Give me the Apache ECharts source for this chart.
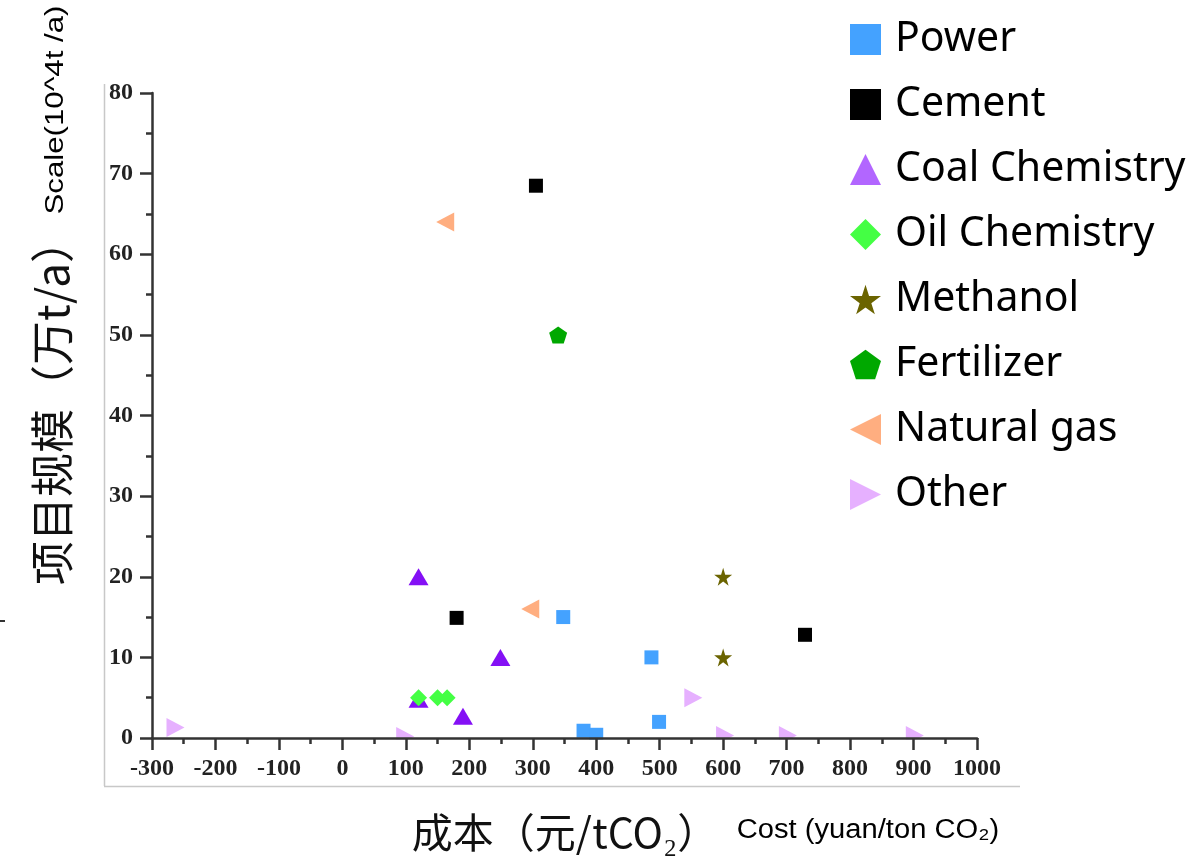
<!DOCTYPE html>
<html>
<head>
<meta charset="utf-8">
<script src="https://cdn.jsdelivr.net/npm/echarts@6/dist/echarts.min.js"></script>
<style>
html,body{margin:0;padding:0;background:#fff;}
#chart{width:1196px;height:858px;}
</style>
</head>
<body>
<div id="chart"></div>
<script>
// ---- data (cost yuan/tCO2, scale 10^4 t/a) ----
const seriesNames = ['Power','Cement','Coal Chemistry','Oil Chemistry','Methanol','Fertilizer','Natural gas','Other'];
const powerData      = [[348,15],[487,10],[499,2],[380,0.9],[400,0.4]];
const cementData     = [[305,68.5],[180,14.9],[729,12.8]];
const coalData       = [[120,20],[249,10],[190,2.7],[120,4.8]];
const oilData        = [[120,5],[150,5],[165,5]];
const methanolData   = [[600,20],[600,10]];
const fertilizerData = [[340,50]];
const gasData        = [[162,64],[296,16]];
const otherData      = [[-263,1.3],[99,0.2],[553,5],[603,0.3],[702,0.3],[902,0.3]];
const xTicks = {min:-300, max:1000, interval:100};
const yTicks = {min:0, max:80, interval:10};

const STAR = 'path://M50,0 L61,35 L98,35 L68,57 L79,91 L50,70 L21,91 L32,57 L2,35 L39,35 Z';
const PENT = 'path://M50,0 L100,36 L81,95 L19,95 L0,36 Z';
const LTRI = 'path://M0,50 L100,0 L100,100 Z';
const RTRI = 'path://M100,50 L0,0 L0,100 Z';

const chart = echarts.init(document.getElementById('chart'));
const tickFont = {fontFamily:'Liberation Serif', fontWeight:'bold', fontSize:24, color:'#222',
  formatter: v => String(v)};

function sc(name, data, symbol, size, color){
  return {name, type:'scatter', data, symbol, symbolSize:size, z:2,
    itemStyle:{color, opacity:1}, emphasis:{disabled:true}};
}

chart.setOption({
  animation:false,
  backgroundColor:'#fff',
  grid:{left:152, top:93, width:825, height:645},
  xAxis:{type:'value', min:xTicks.min, max:xTicks.max, interval:xTicks.interval, z:10,
    axisLine:{show:true, onZero:false, lineStyle:{color:'#333', width:2.5}},
    axisTick:{show:true, length:12, lineStyle:{color:'#333', width:2.5}},
    minorTick:{show:true, splitNumber:2, length:6, lineStyle:{color:'#333', width:2.5}},
    splitLine:{show:false},
    axisLabel:Object.assign({margin:19}, tickFont)},
  yAxis:{type:'value', min:yTicks.min, max:yTicks.max, interval:yTicks.interval, z:10,
    axisLine:{show:true, onZero:false, lineStyle:{color:'#333', width:2.5}},
    axisTick:{show:true, length:12, lineStyle:{color:'#333', width:2.5}},
    minorTick:{show:true, splitNumber:2, length:6, lineStyle:{color:'#333', width:2.5}},
    splitLine:{show:false},
    axisLabel:Object.assign({margin:19}, tickFont)},
  legend:{orient:'vertical', left:850, top:17, padding:0, itemGap:20,
    itemWidth:31, itemHeight:31, selectedMode:false,
    textStyle:{fontFamily:'Noto Sans', fontSize:41, color:'#000', lineHeight:45, padding:[0,0,0,9]},
    data:[
      {name:'Power', icon:'rect'},
      {name:'Cement', icon:'rect'},
      {name:'Coal Chemistry', icon:'triangle', itemStyle:{color:'#b266ff'}},
      {name:'Oil Chemistry', icon:'diamond'},
      {name:'Methanol', icon:STAR},
      {name:'Fertilizer', icon:PENT},
      {name:'Natural gas', icon:LTRI},
      {name:'Other', icon:RTRI}
    ]},
  graphic:[
    {type:'rect', z:5, silent:true, shape:{x:150, y:739.5, width:840, height:22}, style:{fill:'#fff'}},
    {type:'line', z:1, silent:true, shape:{x1:104.5, y1:84, x2:104.5, y2:786}, style:{stroke:'#c8c8c8', lineWidth:1.5}},
    {type:'line', z:1, silent:true, shape:{x1:104, y1:786.5, x2:1020, y2:786.5}, style:{stroke:'#c8c8c8', lineWidth:1.5}},
    {type:'rect', z:1, silent:true, shape:{x:0, y:620, width:5, height:2}, style:{fill:'#333'}},
    {type:'text', z:20, silent:true, x:52, y:402, rotation:Math.PI/2,
      style:{text:'项目规模（万t/a）', fontFamily:'Noto Sans CJK SC', fontSize:44, fill:'#111', align:'center', verticalAlign:'middle'}},
    {type:'text', z:20, silent:true, x:56, y:110, rotation:Math.PI/2, scaleX:1.2,
      style:{text:'Scale(10^4t /a)', fontFamily:'Liberation Sans', fontSize:26, fill:'#000', align:'center', verticalAlign:'middle'}},
    {type:'text', z:20, silent:true, x:565, y:832,
      style:{text:'成本（元/tCO₂）', fontFamily:'Noto Sans CJK SC', fontSize:41, fill:'#111', align:'center', verticalAlign:'middle'}},
    {type:'text', z:20, silent:true, x:868, y:831, scaleX:1.08,
      style:{text:'Cost (yuan/ton CO₂)', fontFamily:'Liberation Sans', fontSize:27, fill:'#000', align:'center', verticalAlign:'middle'}}
  ],
  series:[
    sc('Power', powerData, 'rect', 14, '#44a2ff'),
    sc('Cement', cementData, 'rect', 14, '#000000'),
    sc('Coal Chemistry', coalData, 'triangle', [20,17], '#8410f5'),
    sc('Oil Chemistry', oilData, 'diamond', [17,17], '#44ff44'),
    sc('Methanol', methanolData, STAR, 18, '#6b6400'),
    sc('Fertilizer', fertilizerData, PENT, [18,17], '#00a800'),
    sc('Natural gas', gasData, LTRI, [18,19], '#ffae80'),
    sc('Other', otherData, RTRI, [18,19], '#e6b0ff')
  ]
});
</script>
</body>
</html>
